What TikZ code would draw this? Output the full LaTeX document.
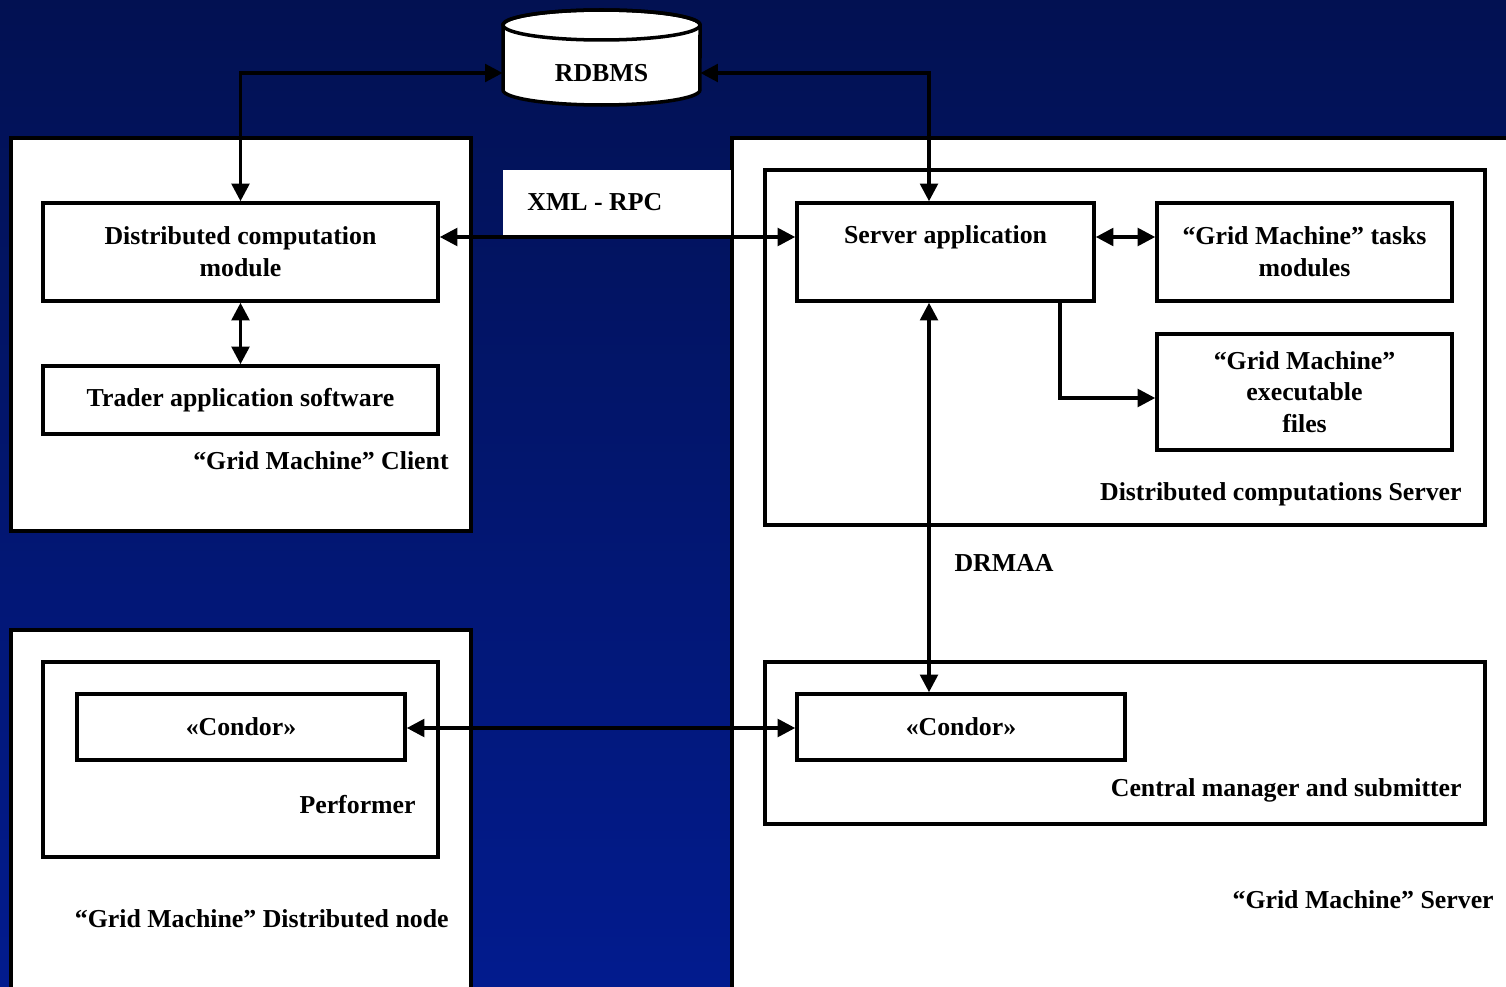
\documentclass[tikz,border=0pt]{standalone}
\usepackage{fontspec}
\setmainfont{Liberation Serif}
\usetikzlibrary{arrows.meta,fit,calc}
\definecolor{bgtop}{RGB}{2,17,82}
\definecolor{bgbot}{RGB}{2,27,142}
\begin{document}
\begin{tikzpicture}[x=0.02cm,y=-0.02cm,
  every node/.style={font=\fontsize{14.7}{18.1}\selectfont\bfseries},
  box/.style={draw, line width=2pt, fill=white, inner sep=0pt, align=center},
  frame/.style={draw, line width=2pt, fill=white},
  lbl/.style={inner sep=0pt, align=center},
  conn/.style={line width=2pt, -{Triangle[length=10pt,width=10pt]}},
  bconn/.style={line width=2pt, {Triangle[length=10pt,width=10pt]}-{Triangle[length=10pt,width=10pt]}}]
\useasboundingbox (0,0) rectangle (1506,986);
\clip (0,0) rectangle (1506,986);
\shade[top color=bgtop, bottom color=bgbot] (0,0) rectangle (1506,986);

% containers
\draw[frame] (11,138) rectangle (471,531);
\draw[frame] (11,630) rectangle (471,1010);
\draw[frame] (732,138) rectangle (1530,1010);
\fill[white] (503,170) rectangle (731,236);
\node[lbl, anchor=west] (xmlrpc) at (527,202) {XML - RPC};

\draw[frame] (765,170) rectangle (1485,525);
\draw[frame] (765,662) rectangle (1485,824);
\draw[frame] (43,662) rectangle (438,857);

% RDBMS cylinder
\draw[line width=2pt, fill=white] (503,25) -- (503,90) arc[start angle=180, end angle=360, x radius=1.97cm, y radius=0.3cm] -- (700,25) arc[start angle=0, end angle=180, x radius=1.97cm, y radius=0.3cm] -- cycle;
\draw[line width=2pt] (601.5,25) ellipse[x radius=1.97cm, y radius=0.3cm];
\node[lbl, fit={(503,40) (700,106)}] (rdbms) {};
\node[lbl] at (rdbms.center) {RDBMS};

% client
\node[box, fit={(43,203) (438,301)}] (dcm) {};
\node[lbl] at (dcm.center) {Distributed computation\\module};
\node[box, fit={(43,366) (438,434)}] (trader) {};
\node[lbl] at (trader.center) {Trader application software};
\node[lbl, anchor=east] (clientlbl) at (449,461) {“Grid Machine” Client};

% server
\node[box, fit={(797,203) (1094,301)}] (sapp) {};
\node[lbl, anchor=north] at ([yshift=-0.47cm]sapp.north) {Server application};
\node[box, fit={(1157,203) (1452,301)}] (tasks) {};
\node[lbl] at (tasks.center) {“Grid Machine” tasks\\modules};
\node[box, fit={(1157,334) (1452,450)}] (exec) {};
\node[lbl] at (exec.center) {“Grid Machine”\\executable\\files};
\node[lbl, anchor=east] (dcslbl) at (1462,494) {Distributed computations Server};

\node[lbl] (drmaa) at (1004,563) {DRMAA};

\node[box, fit={(797,694) (1125,760)}] (condS) {};
\node[lbl] at (condS.center) {«Condor»};
\node[lbl, anchor=east] (cmlbl) at (1462,790) {Central manager and submitter};
\node[lbl, anchor=east] (srvlbl) at (1494,900) {“Grid Machine” Server};

% distributed node
\node[box, fit={(77,694) (405,760)}] (condN) {};
\node[lbl] at (condN.center) {«Condor»};
\node[lbl, anchor=east] (perflbl) at (416,805) {Performer};
\node[lbl, anchor=east] (dnlbl) at (449,919) {“Grid Machine” Distributed node};

% helper coordinates
\coordinate (dx) at (929,0);
\coordinate (xr) at (0,237);
\coordinate (ex) at (1060,398);

% connectors
\draw[bconn] (rdbms.west) -| (dcm.north);
\draw[bconn] (rdbms.east) -| (sapp.north -| dx);
\draw[bconn] (dcm.south) -- (trader.north);
\draw[bconn] (dcm.east |- xr) -- (sapp.west |- xr);
\draw[bconn] (sapp.east |- xr) -- (tasks.west |- xr);
\draw[conn] (sapp.south -| ex) |- (exec.west |- ex);
\draw[bconn] (sapp.south -| dx) -- (condS.north -| dx);
\draw[bconn] (condN.east |- 0,728) -- (condS.west |- 0,728);
\end{tikzpicture}
\end{document}
